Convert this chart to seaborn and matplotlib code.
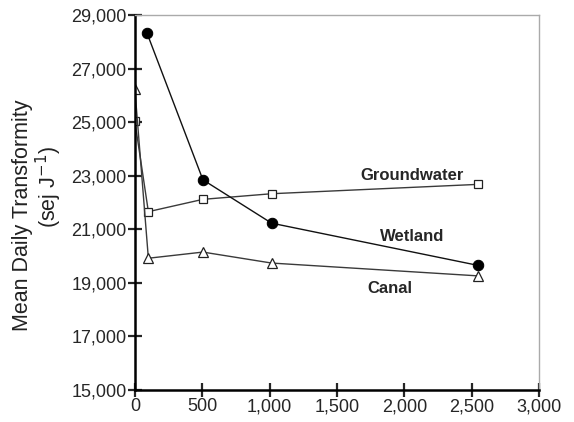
import pandas as pd
import numpy as np
import matplotlib.pyplot as plt
import seaborn as sns
from matplotlib.ticker import FuncFormatter

# values
wetland_x = [90, 505, 1015, 2550]
wetland_y = [28330, 22850, 21230, 19650]

ground_x = [0, 100, 505, 1015, 2550]
ground_y = [25030, 21660, 22120, 22330, 22680]

canal_x = [0, 100, 505, 1015, 2550]
canal_y = [26230, 19920, 20150, 19740, 19260]

sns.set_style("white")
plt.rcParams['font.family'] = ['Liberation Sans', 'DejaVu Sans']

fig = plt.figure(figsize=(5.74, 4.22), dpi=100)
ax = fig.add_axes([0.235, 0.076, 0.704, 0.888])

wet = pd.DataFrame({'x': wetland_x, 'y': wetland_y})
gw = pd.DataFrame({'x': ground_x, 'y': ground_y})
can = pd.DataFrame({'x': canal_x, 'y': canal_y})

line_col = '#3a3a3a'
sns.lineplot(data=gw, x='x', y='y', ax=ax, color=line_col, lw=1.0,
             marker='s', markersize=5.5, markerfacecolor='white',
             markeredgecolor='#222222', markeredgewidth=0.9)
sns.lineplot(data=can, x='x', y='y', ax=ax, color=line_col, lw=1.0,
             marker='^', markersize=6.5, markerfacecolor='white',
             markeredgecolor='#222222', markeredgewidth=0.9)
sns.lineplot(data=wet, x='x', y='y', ax=ax, color='#111111', lw=1.0,
             marker='o', markersize=7.5, markerfacecolor='black',
             markeredgecolor='black')

ax.set_xlim(0, 3000)
ax.set_ylim(15000, 29000)
ax.set_xticks(np.arange(0, 3001, 500))
ax.set_yticks(np.arange(15000, 29001, 2000))
fmt = FuncFormatter(lambda v, p: f"{int(v):,}")
ax.xaxis.set_major_formatter(fmt)
ax.yaxis.set_major_formatter(fmt)
ax.tick_params(direction='inout', length=10, width=1.6, labelsize=13,
               bottom=True, left=True, pad=1)

for s in ['left', 'bottom']:
    ax.spines[s].set_color('black')
    ax.spines[s].set_linewidth(1.8)
for s in ['top', 'right']:
    ax.spines[s].set_color('#aaaaaa')
    ax.spines[s].set_linewidth(1.0)

ax.set_xlabel('')
ax.set_ylabel('')
fig.text(23 / 574, 1 - 215 / 422, "Mean Daily Transformity", fontsize=15.5,
         rotation=90, ha='center', va='center', color='#222222')
fig.text(49 / 574, 1 - 187 / 422, "(sej J$^{-1}$)", fontsize=15.5,
         rotation=90, ha='center', va='center', color='#222222')

ax.text(2060, 23000, 'Groundwater', fontsize=12, fontweight='bold', ha='center', va='center')
ax.text(2060, 20750, 'Wetland', fontsize=12, fontweight='bold', ha='center', va='center')
ax.text(1890, 18780, 'Canal', fontsize=12, fontweight='bold', ha='center', va='center')

fig.savefig('out.png', dpi=100)
